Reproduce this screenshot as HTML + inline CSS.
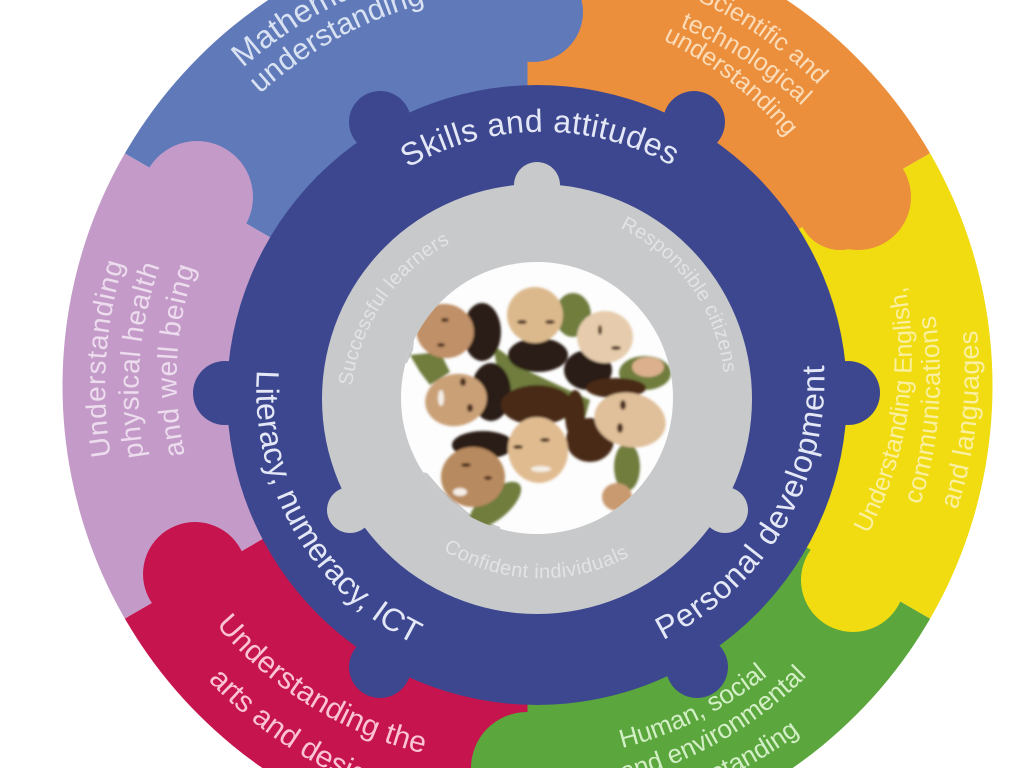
<!DOCTYPE html>
<html><head><meta charset="utf-8"><style>
html,body{margin:0;padding:0;background:#fff;width:1024px;height:768px;overflow:hidden}
svg{display:block;width:1024px;height:768px;overflow:hidden}
text{font-family:"Liberation Sans",sans-serif}
</style></head><body>
<svg width="1024" height="768" viewBox="0 0 1024 768" xmlns="http://www.w3.org/2000/svg">
<defs>
<clipPath id="o"><circle cx="527.5" cy="386" r="465"/></clipPath>
<clipPath id="ph"><circle cx="537" cy="398" r="136"/></clipPath>
<filter id="b" x="-10%" y="-10%" width="120%" height="120%"><feGaussianBlur stdDeviation="1.3"/></filter>
<path id="p1" d="M408,168 A265 265 0 0 1 672,166"/>
<path id="p2" d="M257,370 A283 283 0 0 0 412,643"/>
<path id="p3" d="M663,640 A290 290 0 0 0 824,365"/>
<path id="p4" d="M352,386 A188 188 0 0 1 456,240"/>
<path id="p5" d="M620,228 A182 182 0 0 1 724,376"/>
<path id="p6" d="M443,550 A187 187 0 0 0 632,555"/>
<path id="m1" d="M243,68 A426 426 0 0 1 527,-40"/>
<path id="m2" d="M260,94 A396 396 0 0 1 527,-10"/>
<path id="s1" d="M527,-39 A425 425 0 0 1 818,85"/>
<path id="s2" d="M600,4 A395 395 0 0 1 802,106"/>
<path id="s3" d="M640,30 A365 365 0 0 1 787,137"/>
<path id="y1" d="M868,534 A380 380 0 0 0 905,285"/>
<path id="y2" d="M920,505 A410 410 0 0 0 935,315"/>
<path id="y3" d="M957,510 A445 445 0 0 0 977,330"/>
<path id="u1" d="M111,456 A420 420 0 0 1 124,262"/>
<path id="u2" d="M144,457 A385 385 0 0 1 160,265"/>
<path id="u3" d="M185,455 A345 345 0 0 1 195,268"/>
<path id="r1" d="M216,625 A390 390 0 0 0 422,753"/>
<path id="r2" d="M208,680 A430 430 0 0 0 527,816"/>
<path id="g1" d="M622,748 A376 376 0 0 0 772,672"/>
<path id="g2" d="M600,786 A405 405 0 0 0 807,676"/>
<path id="g3" d="M600,815 A440 440 0 0 0 800,733"/>
</defs>
<rect width="1024" height="768" fill="#fff"/>
<g clip-path="url(#o)">
<polygon fill="#5f79b9" points="527.5,386 -373,-134 -373,-600 527.5,-600"/>
<polygon fill="#ec8f3d" points="527.5,386 527.5,-600 1427,-600 1427,-134"/>
<polygon fill="#f0dc10" points="527.5,386 1427,-134 1427,906"/>
<polygon fill="#5ba63d" points="527.5,386 1427,906 1427,1400 527.5,1400"/>
<polygon fill="#c6144f" points="527.5,386 527.5,1400 -373,1400 -373,906"/>
<polygon fill="#c49bc8" points="527.5,386 -373,906 -373,-134"/>
<circle cx="533" cy="12" r="50" fill="#5f79b9"/>
<circle cx="858" cy="197" r="53" fill="#ec8f3d"/>
<circle cx="840" cy="208" r="42" fill="#ec8f3d"/>
<circle cx="853" cy="580" r="52" fill="#f0dc10"/>
<circle cx="527" cy="768" r="56" fill="#5ba63d"/>
<circle cx="195" cy="574" r="52" fill="#c6144f"/>
<circle cx="212" cy="572" r="36" fill="#c6144f"/>
<circle cx="197" cy="197" r="56" fill="#c49bc8"/>
</g>
<g fill="#3c478f">
<circle cx="537" cy="395" r="310"/>
<circle cx="380" cy="122" r="31"/><circle cx="694" cy="122" r="31"/>
<circle cx="225" cy="393" r="32"/><circle cx="848" cy="393" r="32"/>
<circle cx="380" cy="667" r="31"/><circle cx="697" cy="667" r="31"/>
</g>
<g fill="#c8c9cb">
<circle cx="537" cy="399" r="215"/>
<circle cx="537" cy="185" r="23"/><circle cx="350" cy="510" r="23"/><circle cx="725" cy="510" r="23"/>
</g>
<circle cx="537" cy="398" r="136" fill="#fdfdfd"/>
<g clip-path="url(#ph)">
<polygon fill="#c8c9cb" points="395,255 467,276 442,300 415,330 413,350 407,363 395,365"/>
<polygon fill="#c8c9cb" points="427,473 442,490 473,517 500,527 503,540 410,540 410,470"/>
<g filter="url(#b)">
<g fill="#6f7d3c">
<polygon points="493,345 530,372 590,400 583,425 540,410 500,385"/>
<polygon points="410,355 440,352 450,372 430,385 420,372"/>
<ellipse cx="573" cy="315" rx="18" ry="22"/>
<ellipse cx="627" cy="467" rx="13" ry="24"/>
<ellipse cx="495" cy="505" rx="32" ry="14" transform="rotate(-40 495 505)"/>
<ellipse cx="645" cy="373" rx="26" ry="17"/>
</g>
<g fill="#2c1d15">
<ellipse cx="482" cy="332" rx="19" ry="29"/>
<ellipse cx="538" cy="355" rx="30" ry="17"/>
<ellipse cx="588" cy="370" rx="24" ry="20"/>
<ellipse cx="491" cy="392" rx="20" ry="29"/>
<ellipse cx="483" cy="445" rx="31" ry="14"/>
</g>
<g fill="#4a2a18">
<ellipse cx="537" cy="405" rx="36" ry="20"/>
<ellipse cx="590" cy="440" rx="24" ry="22"/>
<ellipse cx="616" cy="388" rx="30" ry="10"/>
<ellipse cx="575" cy="415" rx="10" ry="25"/>
</g>
<ellipse cx="445" cy="331" rx="29" ry="27" transform="rotate(15 445 331)" fill="#c09068"/>
<ellipse cx="535" cy="315" rx="28" ry="28" fill="#dcb98d"/>
<ellipse cx="605" cy="337" rx="28" ry="26" fill="#e6ccac"/>
<ellipse cx="456" cy="400" rx="31" ry="26" transform="rotate(-12 456 400)" fill="#caa077"/>
<ellipse cx="630" cy="420" rx="36" ry="27" transform="rotate(12 630 420)" fill="#e0c09a"/>
<ellipse cx="538" cy="450" rx="30" ry="33" transform="rotate(-10 538 450)" fill="#e0bb90"/>
<ellipse cx="473" cy="477" rx="32" ry="30" fill="#b88a5e"/>
<ellipse cx="617" cy="497" rx="15" ry="14" fill="#c99a70"/>
<ellipse cx="648" cy="367" rx="16" ry="10" fill="#dcb08c"/>
<g fill="#4d3221">
<ellipse cx="445" cy="320" rx="4" ry="2"/><ellipse cx="441" cy="345" rx="4" ry="2"/>
<ellipse cx="522" cy="322" rx="5" ry="2"/><ellipse cx="550" cy="322" rx="5" ry="2"/>
<ellipse cx="600" cy="330" rx="2" ry="5"/><ellipse cx="616" cy="348" rx="5" ry="2"/>
<ellipse cx="463" cy="382" rx="3" ry="4"/><ellipse cx="470" cy="408" rx="3" ry="4"/>
<ellipse cx="623" cy="405" rx="3" ry="5"/><ellipse cx="620" cy="428" rx="3" ry="5"/>
<ellipse cx="518" cy="447" rx="5" ry="2"/><ellipse cx="545" cy="440" rx="5" ry="2"/>
<ellipse cx="466" cy="465" rx="5" ry="2"/><ellipse cx="488" cy="478" rx="4" ry="2"/>
</g>
<g fill="#f4eee6">
<ellipse cx="441" cy="398" rx="3" ry="8"/><ellipse cx="541" cy="469" rx="10" ry="3"/>
<ellipse cx="460" cy="492" rx="7" ry="4"/>
</g>
</g></g>
<g fill="#e4e8f6" font-size="32">
<text><textPath href="#p1" textLength="276">Skills and attitudes</textPath></text>
<text><textPath href="#p2" textLength="335">Literacy, numeracy, ICT</textPath></text>
<text><textPath href="#p3" textLength="337">Personal development</textPath></text>
</g>
<g fill="#e2e3e6" font-size="20">
<text><textPath href="#p4" textLength="180">Successful learners</textPath></text>
<text><textPath href="#p5" textLength="186">Responsible citizens</textPath></text>
<text><textPath href="#p6" textLength="195">Confident individuals</textPath></text>
</g>
<g clip-path="url(#o)">
<g fill="#d9e2f3">
<text font-size="32"><textPath href="#m1">Mathematical</textPath></text>
<text font-size="30"><textPath href="#m2">understanding</textPath></text>
</g>
<g fill="#fbdcb8" font-size="25" text-anchor="end">
<text><textPath href="#s1" startOffset="100%">Scientific and</textPath></text>
<text><textPath href="#s2" startOffset="100%">technological</textPath></text>
<text><textPath href="#s3" startOffset="100%">understanding</textPath></text>
</g>
<g fill="#faf0a0">
<text font-size="25"><textPath href="#y1" textLength="255">Understanding English,</textPath></text>
<text font-size="26"><textPath href="#y2" textLength="192">communications</textPath></text>
<text font-size="27"><textPath href="#y3" textLength="182">and languages</textPath></text>
</g>
<g fill="#ecdcee" font-size="28">
<text><textPath href="#u1" textLength="195">Understanding</textPath></text>
<text><textPath href="#u2" textLength="194">physical health</textPath></text>
<text><textPath href="#u3" textLength="190">and well being</textPath></text>
</g>
<g fill="#fbc4d4" font-size="30">
<text><textPath href="#r1" textLength="248">Understanding the</textPath></text>
<text><textPath href="#r2">arts and design</textPath></text>
</g>
<g fill="#d3efc6" font-size="26">
<text><textPath href="#g1" textLength="164">Human, social</textPath></text>
<text text-anchor="end"><textPath href="#g2" startOffset="100%">and environmental</textPath></text>
<text text-anchor="end"><textPath href="#g3" startOffset="100%">understanding</textPath></text>
</g>
</g>
</svg>
</body></html>
